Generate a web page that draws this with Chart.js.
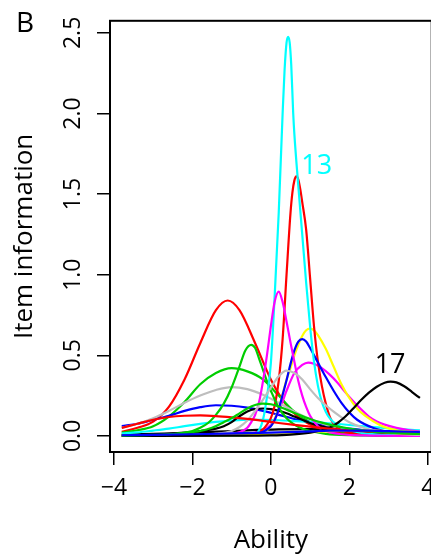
<!DOCTYPE html>
<html>
<head>
<meta charset="utf-8">
<script src="https://cdn.jsdelivr.net/npm/chart.js@4.4.1/dist/chart.umd.min.js"></script>
<style>
    html, body { margin: 0; padding: 0; background: #fff; overflow: hidden; }
    #infoChart { position: absolute; left: 0; top: 0; }
</style>
</head>
<body>
<canvas id="infoChart" width="460" height="556"></canvas>
<script>
// item information curves, [ability, information]
const item1 = [[-3.8,0.008],[-3.0,0.012],[-2.2,0.018],[-1.4,0.026],[-0.6,0.034],[0.2,0.04],[1.0,0.042],[1.8,0.038],[2.6,0.03],[3.8,0.02]];
const item2 = [[-3.8,0.025],[-3.4,0.05],[-3.0,0.088],[-2.6,0.18],[-2.2,0.35],[-1.8,0.575],[-1.4,0.78],[-1.1,0.84],[-0.8,0.78],[-0.4,0.575],[0.0,0.35],[0.4,0.19],[0.8,0.1],[1.2,0.05],[1.6,0.025],[2.0,0.013],[2.6,0.005],[3.2,0.002],[3.8,0.001]];
const item3 = [[-3.8,0.02],[-3.4,0.035],[-3.0,0.06],[-2.6,0.12],[-2.2,0.21],[-1.8,0.32],[-1.4,0.39],[-1.0,0.42],[-0.6,0.4],[-0.2,0.35],[0.2,0.25],[0.6,0.15],[1.0,0.085],[1.4,0.05],[1.8,0.028],[2.2,0.016],[2.6,0.009],[3.0,0.005],[3.8,0.002]];
const item4 = [[-3.8,0.06],[-3.4,0.075],[-3.0,0.1],[-2.6,0.125],[-2.2,0.155],[-1.8,0.178],[-1.4,0.19],[-1.0,0.187],[-0.6,0.175],[-0.2,0.155],[0.2,0.13],[0.6,0.105],[1.0,0.085],[1.4,0.065],[1.8,0.05],[2.2,0.04],[2.6,0.03],[3.0,0.025],[3.4,0.02],[3.8,0.016]];
const item5 = [[-3.8,0.015],[-3.4,0.022],[-3.0,0.033],[-2.6,0.045],[-2.2,0.06],[-1.8,0.074],[-1.4,0.087],[-1.0,0.095],[-0.6,0.1],[-0.2,0.1],[0.2,0.097],[0.6,0.092],[1.0,0.087],[1.4,0.08],[1.8,0.072],[2.2,0.063],[2.6,0.055],[3.0,0.047],[3.4,0.04],[3.8,0.034]];
const item6 = [[-3.8,0],[-2.0,0.001],[-1.0,0.005],[-0.6,0.012],[-0.2,0.035],[0.0,0.07],[0.2,0.15],[0.4,0.28],[0.6,0.39],[0.8,0.44],[0.95,0.455],[1.1,0.447],[1.3,0.42],[1.5,0.38],[1.7,0.33],[1.9,0.27],[2.1,0.215],[2.3,0.165],[2.5,0.12],[2.7,0.09],[2.9,0.07],[3.2,0.05],[3.5,0.036],[3.8,0.026]];
const item7 = [[-3.8,0],[-1.0,0.001],[-0.6,0.003],[-0.4,0.008],[-0.2,0.02],[0.0,0.06],[0.2,0.17],[0.3,0.26],[0.4,0.35],[0.5,0.42],[0.6,0.5],[0.7,0.565],[0.8,0.62],[0.9,0.655],[1.0,0.665],[1.1,0.655],[1.2,0.625],[1.4,0.54],[1.6,0.43],[1.8,0.32],[2.0,0.235],[2.2,0.17],[2.4,0.125],[2.8,0.065],[3.2,0.035],[3.6,0.018],[3.8,0.013]];
const item8 = [[-3.8,0.05],[-3.4,0.075],[-3.0,0.11],[-2.6,0.155],[-2.2,0.205],[-1.8,0.25],[-1.4,0.285],[-1.0,0.303],[-0.6,0.29],[-0.2,0.255],[0.2,0.205],[0.6,0.15],[1.0,0.105],[1.4,0.07],[1.8,0.045],[2.2,0.028],[2.6,0.017],[3.0,0.01],[3.4,0.006],[3.8,0.004]];
const item9 = [[-3.8,0.003],[-3.0,0.008],[-2.6,0.013],[-2.2,0.02],[-1.8,0.03],[-1.4,0.045],[-1.2,0.06],[-1.0,0.085],[-0.8,0.122],[-0.6,0.152],[-0.4,0.167],[-0.2,0.17],[0.0,0.166],[0.2,0.156],[0.4,0.14],[0.6,0.12],[0.8,0.1],[1.0,0.08],[1.2,0.065],[1.5,0.048],[2.0,0.028],[2.5,0.017],[3.0,0.01],[3.8,0.005]];
const item10 = [[-3.8,0],[-1.0,0.003],[-0.6,0.01],[-0.3,0.025],[-0.2,0.04],[-0.1,0.07],[0.0,0.11],[0.1,0.19],[0.2,0.34],[0.3,0.6],[0.4,1.0],[0.5,1.38],[0.55,1.51],[0.6,1.585],[0.65,1.61],[0.7,1.59],[0.75,1.53],[0.8,1.45],[0.9,1.28],[1.0,0.98],[1.1,0.68],[1.2,0.46],[1.3,0.31],[1.4,0.2],[1.5,0.12],[1.6,0.075],[1.8,0.035],[2.2,0.012],[2.8,0.004],[3.8,0.001]];
const item11 = [[-3.8,0],[-3.0,0.003],[-2.5,0.01],[-2.0,0.03],[-1.8,0.05],[-1.6,0.08],[-1.4,0.13],[-1.2,0.2],[-1.0,0.3],[-0.8,0.43],[-0.65,0.53],[-0.5,0.565],[-0.4,0.545],[-0.3,0.48],[-0.2,0.41],[-0.1,0.34],[0.0,0.28],[0.2,0.175],[0.4,0.11],[0.6,0.07],[0.8,0.045],[1.0,0.03],[1.4,0.013],[2.0,0.004],[3.0,0.001],[3.8,0]];
const item12 = [[-3.8,0],[-1.0,0.002],[-0.6,0.005],[-0.4,0.01],[-0.2,0.025],[0.0,0.06],[0.1,0.1],[0.2,0.165],[0.3,0.255],[0.4,0.345],[0.5,0.445],[0.6,0.53],[0.7,0.585],[0.8,0.6],[0.9,0.585],[1.0,0.545],[1.2,0.455],[1.4,0.365],[1.6,0.28],[1.8,0.205],[2.0,0.145],[2.2,0.1],[2.6,0.05],[3.0,0.025],[3.4,0.012],[3.8,0.006]];
const item13 = [[-3.8,0],[-1.0,0.001],[-0.6,0.004],[-0.4,0.012],[-0.3,0.035],[-0.2,0.1],[-0.1,0.24],[0.0,0.45],[0.1,0.88],[0.2,1.38],[0.3,2.0],[0.35,2.27],[0.4,2.44],[0.44,2.475],[0.48,2.44],[0.52,2.3],[0.57,2.0],[0.6,1.87],[0.7,1.55],[0.8,1.25],[0.9,0.95],[1.0,0.68],[1.1,0.46],[1.2,0.31],[1.3,0.21],[1.4,0.15],[1.5,0.11],[1.7,0.065],[2.0,0.035],[2.5,0.012],[3.0,0.005],[3.8,0.001]];
const item14 = [[-3.8,0],[-2.0,0.001],[-1.5,0.004],[-1.0,0.012],[-0.8,0.022],[-0.6,0.05],[-0.5,0.085],[-0.4,0.13],[-0.3,0.21],[-0.2,0.34],[-0.1,0.5],[0.0,0.68],[0.1,0.835],[0.2,0.895],[0.3,0.83],[0.4,0.71],[0.5,0.58],[0.6,0.46],[0.7,0.34],[0.8,0.25],[0.9,0.18],[1.0,0.125],[1.2,0.06],[1.4,0.03],[1.8,0.01],[2.4,0.003],[3.8,0]];
const item15 = [[-3.8,0],[-2.0,0.001],[-1.0,0.003],[0.0,0.008],[0.5,0.014],[1.0,0.022],[1.5,0.03],[2.0,0.034],[2.5,0.034],[3.0,0.03],[3.8,0.024]];
const item16 = [[-3.8,0],[-2.0,0.004],[-1.4,0.012],[-1.0,0.03],[-0.8,0.055],[-0.6,0.095],[-0.4,0.155],[-0.2,0.225],[0.0,0.3],[0.2,0.37],[0.4,0.405],[0.6,0.39],[0.8,0.35],[1.0,0.29],[1.2,0.235],[1.4,0.19],[1.6,0.15],[1.8,0.115],[2.0,0.085],[2.4,0.047],[2.8,0.026],[3.2,0.014],[3.8,0.006]];
const item17 = [[-3.8,0],[-1.0,0.001],[0.0,0.003],[0.5,0.008],[1.0,0.02],[1.3,0.035],[1.5,0.052],[1.7,0.08],[1.9,0.12],[2.1,0.17],[2.3,0.222],[2.5,0.268],[2.7,0.305],[2.9,0.33],[3.05,0.337],[3.2,0.332],[3.4,0.308],[3.6,0.272],[3.8,0.235]];
const item18 = [[-3.8,0.05],[-3.4,0.075],[-3.0,0.1],[-2.6,0.117],[-2.2,0.125],[-1.8,0.127],[-1.4,0.123],[-1.0,0.115],[-0.6,0.105],[-0.2,0.093],[0.2,0.08],[0.6,0.068],[1.0,0.057],[1.4,0.047],[1.8,0.038],[2.2,0.031],[2.6,0.025],[3.0,0.02],[3.4,0.016],[3.8,0.013]];
const item19 = [[-3.8,0.002],[-3.0,0.006],[-2.6,0.01],[-2.2,0.018],[-1.8,0.03],[-1.5,0.05],[-1.2,0.085],[-1.0,0.11],[-0.8,0.14],[-0.6,0.17],[-0.4,0.192],[-0.2,0.2],[0.0,0.196],[0.2,0.182],[0.4,0.163],[0.7,0.133],[1.0,0.105],[1.3,0.082],[1.6,0.064],[2.0,0.046],[2.5,0.03],[3.0,0.02],[3.8,0.012]];
const item20 = [[-3.8,0.004],[-3.0,0.006],[-2.0,0.01],[-1.0,0.015],[0.0,0.02],[1.0,0.028],[1.5,0.032],[2.0,0.033],[2.5,0.032],[3.0,0.029],[3.8,0.024]];

const items = [item1, item2, item3, item4, item5, item6, item7, item8, item9, item10,
               item11, item12, item13, item14, item15, item16, item17, item18, item19, item20];

// R default palette, recycled over the items
const palette = ['#000000', '#FF0000', '#00CD00', '#0000FF', '#00FFFF', '#FF00FF', '#FFFF00', '#BEBEBE'];

const xTicks = [-4, -2, 0, 2, 4];
const yTicks = [0, 0.5, 1.0, 1.5, 2.0, 2.5];

// item numbers written next to their curves
const itemLabels = [
    { text: '13', ability: 1.17, info: 1.67, color: '#00FFFF' },
    { text: '17', ability: 3.04, info: 0.435, color: '#000000' }
];

const FONT = "'Open Sans', 'DejaVu Sans', sans-serif";

function buildDatasets() {
    const sets = items.map((pts, i) => ({
        label: 'Item ' + (i + 1),
        data: pts.map(p => ({ x: p[0], y: p[1] })),
        borderColor: palette[i % palette.length],
        borderWidth: 2.2,
        pointRadius: 0,
        fill: false,
        cubicInterpolationMode: 'monotone'
    }));
    // chart.js paints the first dataset on top, R paints the last one on top
    return sets.reverse();
}

const panelDecor = {
    id: 'panelDecor',
    afterDatasetsDraw(chart) {
        const { ctx, chartArea: a } = chart;
        ctx.save();
        ctx.strokeStyle = '#000';
        ctx.lineWidth = 2;
        ctx.strokeRect(a.left, a.top, a.right - a.left, a.bottom - a.top);
        ctx.restore();
    },
    afterDraw(chart) {
        const { ctx } = chart;
        const xs = chart.scales.x, ys = chart.scales.y;
        ctx.save();
        ctx.textAlign = 'center';
        ctx.textBaseline = 'middle';
        ctx.font = '27px ' + FONT;
        itemLabels.forEach(l => {
            ctx.fillStyle = l.color;
            ctx.fillText(l.text, xs.getPixelForValue(l.ability), ys.getPixelForValue(l.info));
        });
        ctx.fillStyle = '#000';
        ctx.font = '28px ' + FONT;
        ctx.fillText('B', 25, 24);
        ctx.restore();
    }
};

function createChart() {
    const ctx = document.getElementById('infoChart').getContext('2d');
    new Chart(ctx, {
        type: 'line',
        data: { datasets: buildDatasets() },
        options: {
            responsive: false,
            animation: false,
            devicePixelRatio: 1,
            layout: { padding: { left: 0, top: 16, right: 28.3, bottom: 0 } },
            plugins: {
                legend: { display: false },
                tooltip: { enabled: false }
            },
            scales: {
                x: {
                    type: 'linear',
                    min: -4.1,
                    max: 4.1,
                    afterBuildTicks: s => { s.ticks = xTicks.map(v => ({ value: v })); },
                    afterFit: s => { s.height = 104; },
                    grid: { drawOnChartArea: false, drawTicks: true, tickLength: 13, color: '#000', lineWidth: 1.5 },
                    border: { display: false },
                    ticks: {
                        autoSkip: false,
                        maxRotation: 0,
                        padding: 10,
                        color: '#000',
                        font: { family: FONT, size: 23 },
                        callback: v => String(v).replace('-', '\u2212')
                    },
                    title: {
                        display: true,
                        text: 'Ability',
                        color: '#000',
                        font: { family: FONT, size: 26 },
                        padding: { top: 0, bottom: 0 }
                    }
                },
                y: {
                    type: 'linear',
                    min: -0.1,
                    max: 2.575,
                    afterBuildTicks: s => { s.ticks = yTicks.map(v => ({ value: v })); },
                    afterFit: s => { s.width = 110; },
                    grid: { drawOnChartArea: false, drawTicks: true, tickLength: 13, color: '#000', lineWidth: 1.5 },
                    border: { display: false },
                    ticks: {
                        autoSkip: false,
                        minRotation: 90,
                        maxRotation: 90,
                        crossAlign: 'center',
                        padding: 7,
                        color: '#000',
                        font: { family: FONT, size: 23 },
                        callback: v => v.toFixed(1)
                    },
                    title: {
                        display: true,
                        text: 'Item information',
                        color: '#000',
                        font: { family: FONT, size: 26 },
                        padding: { top: 9, bottom: 0 }
                    }
                }
            }
        },
        plugins: [panelDecor]
    });
}

document.addEventListener('DOMContentLoaded', createChart);
</script>
</body>
</html>
